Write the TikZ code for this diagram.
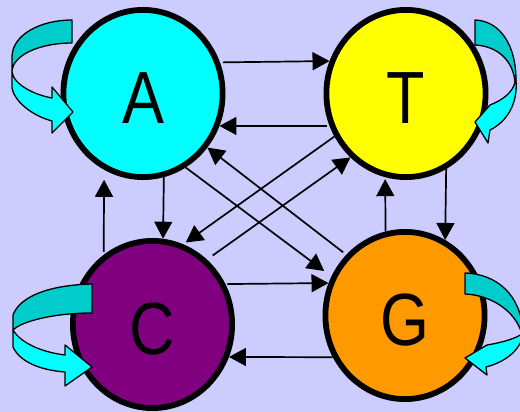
\documentclass[tikz,border=0pt]{standalone}
\usepackage{fontspec}
\newfontfamily\basefont[FakeStretch=0.85]{Liberation Sans}
\usetikzlibrary{arrows.meta,shapes.geometric}
\definecolor{bgcol}{HTML}{CCCCFF}
\definecolor{acol}{HTML}{00FFFF}
\definecolor{tcol}{HTML}{FFFF00}
\definecolor{ccol}{HTML}{800080}
\definecolor{gcol}{HTML}{FF9900}
\definecolor{ribbonback}{HTML}{00CCCC}
\definecolor{ribbonfront}{HTML}{00FFFF}

\begin{document}
\begin{tikzpicture}[x=1pt,y=-1pt,
  base/.style={ellipse, draw=black, line width=5.8pt,
    minimum width=159.2pt, minimum height=167.2pt, inner sep=0pt,
    text height=60pt, text depth=0pt,
    font=\basefont\fontsize{74}{74}\selectfont},
  link/.style={line width=1.7pt, -{Triangle[length=17pt,width=18pt]}},
  backpart/.style={fill=ribbonback, draw=black, line width=1.3pt, line join=round},
  frontpart/.style={fill=ribbonfront, draw=black, line width=1.3pt, line join=round}]

% background and page frame
\fill[bgcol] (0,0) rectangle (520,412);
\useasboundingbox (0,0) rectangle (520,412);
\clip (0,0) rectangle (520,412);

% the four bases
\node[base, fill=acol] (A) at (143,93.5) {A};
\node[base, fill=tcol] (T) at (406,93.5) {T};
\node[base, fill=ccol] (C) at (152.5,324.5) {C};
\node[base, fill=gcol] (G) at (405,315.5) {G};

% horizontal transitions
\draw[link, shorten <=3pt] (A.22.3) -- (T.157.7);
\draw[link, shorten <=3pt] (T.203) -- (A.-23);
\draw[link, shorten <=2pt] (C.29.8) -- (G.157);
\draw[link] (G.210.6) -- (C.-23.8);

% vertical transitions
\draw[link] (A.-76.6) -- (C.83);
\draw[link, shorten <=3pt, shorten >=10pt] (C.125.6) -- (A.-117.9);
\draw[link] (T.-62.9) -- (G.62.1);
\draw[link, shorten >=2pt] (G.103.4) -- (T.-104.1);

% diagonal transitions
\draw[link, shorten >=3pt] (T.211) -- (C.69);
\draw[link, shorten <=7pt] (C.50.2) -- (T.229.9);
\draw[link, shorten <=4pt] (G.134.3) -- (A.-40.4);
\draw[link, shorten >=9pt] (A.-60.6) -- (G.152.1);

% self transition of A
\path[backpart] (72,20) -- (72,43) .. controls (40,43) and (12,55) .. (12,72)
  -- (12,57) .. controls (12,35) and (40,20) .. (72,20) -- cycle;
\path[frontpart] (12,72) -- (12,88) .. controls (14,100) and (30,115) .. (52,121)
  -- (52,133) -- (73,112) -- (52,87) -- (52,98)
  .. controls (35,95) and (14,85) .. (12,72) -- cycle;

% self transition of T
\path[backpart] (475,20) .. controls (500,21) and (516,45) .. (516,80)
  -- (515,82) .. controls (513,60) and (497,46) .. (475,45) -- cycle;
\path[frontpart] (516,80) .. controls (518,105) and (506,122) .. (490,130)
  -- (488,143) -- (475,122) -- (490,105)
  .. controls (503,100) and (513,92) .. (515,82) -- cycle;

% self transition of C
\path[backpart] (92,284) -- (92,313) .. controls (55,313) and (22,321) .. (13,330)
  -- (13,315) .. controls (20,296) and (50,285) .. (92,284) -- cycle;
\path[frontpart] (13,330) -- (13,347) .. controls (20,362) and (40,370) .. (65,372)
  -- (65,386) -- (92,367) -- (65,345) -- (65,355)
  .. controls (40,352) and (20,342) .. (13,330) -- cycle;

% self transition of G
\path[backpart] (465,273) .. controls (497,274) and (521,295) .. (523,332)
  -- (522,334) .. controls (515,310) and (490,295) .. (465,294) -- cycle;
\path[frontpart] (523,332) .. controls (522,350) and (505,362) .. (486,367)
  -- (487,375) -- (465,358) -- (487,345)
  .. controls (505,342) and (516,338) .. (522,334) -- cycle;
\end{tikzpicture}
\end{document}
